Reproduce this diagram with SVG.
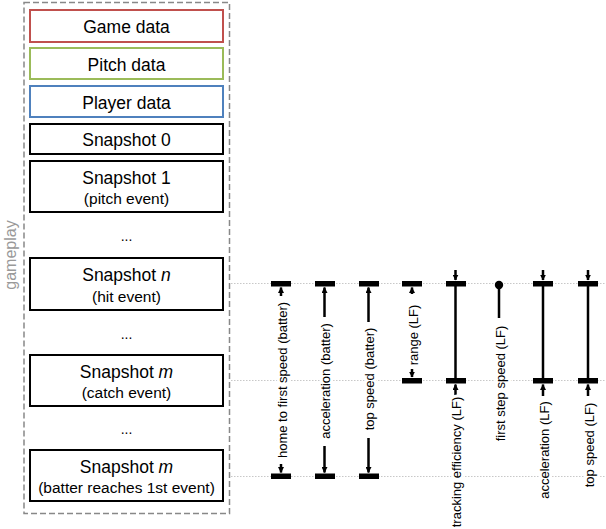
<svg xmlns="http://www.w3.org/2000/svg" width="606" height="529" viewBox="0 0 606 529">
<style>
.box{fill:#fff;stroke:#000;stroke-width:2}
.t{font-family:"Liberation Sans",Arial,sans-serif;font-size:17.5px;text-anchor:middle;fill:#000}
.s{font-family:"Liberation Sans",Arial,sans-serif;font-size:15.5px;text-anchor:middle;fill:#000}
.dots{font-family:"Liberation Sans",Arial,sans-serif;font-size:14px;text-anchor:middle;fill:#000}
.lbl{font-family:"Liberation Sans",Arial,sans-serif;font-size:13px;text-anchor:middle;fill:#000;stroke:#fff;stroke-width:6;paint-order:stroke;stroke-linejoin:round}
.guide{stroke:#c8c8c8;stroke-width:1.2;stroke-dasharray:1.5 1.5;fill:none}
.bar{fill:#000}
.ln{stroke:#000;stroke-width:2.5;fill:none}
</style>
<defs>
<marker id="ah" viewBox="0 0 10 10" refX="9" refY="5" markerWidth="2.4" markerHeight="2.4" orient="auto" markerUnits="strokeWidth">
<path d="M0,0 L10,5 L0,10 z" fill="#000"/>
</marker>
</defs>

<g id="gameplay">
<rect x="24" y="2.5" width="205.5" height="511" fill="none" stroke="#888" stroke-width="1.5" stroke-dasharray="6 3"/>
<text transform="translate(16,255) rotate(-90)" font-family="'Liberation Sans',Arial,sans-serif" font-size="16" fill="#999" text-anchor="middle">gameplay</text>
</g>

<g id="game-data"><rect x="30" y="10" width="193" height="32" fill="#fff" stroke="#c0504d" stroke-width="2"/><text class="t" x="126.5" y="33">Game data</text></g>
<g id="pitch-data"><rect x="30" y="48" width="193" height="31" fill="#fff" stroke="#9bbb59" stroke-width="2"/><text class="t" x="126.5" y="70.5">Pitch data</text></g>
<g id="player-data"><rect x="30" y="86" width="193" height="31" fill="#fff" stroke="#4f81bd" stroke-width="2"/><text class="t" x="126.5" y="108.5">Player data</text></g>
<g id="snapshot-0"><rect class="box" x="30" y="124" width="193" height="30"/><text class="t" x="126.5" y="146">Snapshot 0</text></g>
<g id="snapshot-1"><rect class="box" x="30" y="161" width="193" height="51"/><text class="t" x="126.5" y="184">Snapshot 1</text><text class="s" x="126.5" y="204">(pitch event)</text></g>
<text class="dots" x="126.5" y="241">...</text>
<g id="snapshot-n"><rect class="box" x="30" y="258" width="193" height="52"/><text class="t" x="126.5" y="281">Snapshot <tspan font-style="italic">n</tspan></text><text class="s" x="126.5" y="302">(hit event)</text></g>
<text class="dots" x="126.5" y="339">...</text>
<g id="snapshot-m-catch"><rect class="box" x="30" y="355" width="193" height="51"/><text class="t" x="126.5" y="378">Snapshot <tspan font-style="italic">m</tspan></text><text class="s" x="126.5" y="398">(catch event)</text></g>
<text class="dots" x="126.5" y="434">...</text>
<g id="snapshot-m-batter"><rect class="box" x="30" y="450" width="193" height="51"/><text class="t" x="126.5" y="473">Snapshot <tspan font-style="italic">m</tspan></text><text class="s" x="126.5" y="493" font-size="14">(batter reaches 1st event)</text></g>

<g id="connectors">
<line class="guide" x1="231" y1="283.5" x2="606" y2="283.5"/>
<line class="guide" x1="231" y1="380.5" x2="606" y2="380.5"/>
<line class="guide" x1="231" y1="476.5" x2="606" y2="476.5"/>
</g>

<g id="home-to-first-speed-batter">
<rect class="bar" x="271" y="281" width="20" height="5.5"/>
<rect class="bar" x="271" y="473.5" width="20" height="5.5"/>
<line class="ln" x1="281" y1="296" x2="281" y2="287.5" stroke-width="2" marker-end="url(#ah)"/>
<line class="ln" x1="281" y1="464" x2="281" y2="472.5" stroke-width="2" marker-end="url(#ah)"/>
<text class="lbl" transform="translate(287,380) rotate(-90)">home to first speed (batter)</text>
</g>

<g id="acceleration-batter">
<rect class="bar" x="315" y="281" width="20" height="5.5"/>
<rect class="bar" x="315" y="473.5" width="20" height="5.5"/>
<line class="ln" x1="324.5" y1="317" x2="324.5" y2="287.5" marker-end="url(#ah)"/>
<line class="ln" x1="324.5" y1="446" x2="324.5" y2="472.5" marker-end="url(#ah)"/>
<text class="lbl" transform="translate(330,381) rotate(-90)">acceleration  (batter)</text>
</g>

<g id="top-speed-batter">
<rect class="bar" x="359" y="281" width="20" height="5.5"/>
<rect class="bar" x="359" y="473.5" width="20" height="5.5"/>
<line class="ln" x1="368.5" y1="322" x2="368.5" y2="287.5" marker-end="url(#ah)"/>
<line class="ln" x1="368.5" y1="438" x2="368.5" y2="472.5" marker-end="url(#ah)"/>
<text class="lbl" transform="translate(374,379) rotate(-90)">top speed (batter)</text>
</g>

<g id="range-lf">
<rect class="bar" x="402" y="281" width="20" height="5.5"/>
<rect class="bar" x="402" y="378" width="20" height="5.5"/>
<line class="ln" x1="412" y1="294" x2="412" y2="287.5" stroke-width="2" marker-end="url(#ah)"/>
<line class="ln" x1="412" y1="369" x2="412" y2="377" stroke-width="2" marker-end="url(#ah)"/>
<text class="lbl" transform="translate(418,335) rotate(-90)">range (LF)</text>
</g>

<g id="tracking-efficiency-lf">
<line class="ln" x1="455.5" y1="283" x2="455.5" y2="381"/>
<rect class="bar" x="446" y="281" width="20" height="5.5"/>
<rect class="bar" x="446" y="378" width="20" height="5.5"/>
<line class="ln" x1="455.5" y1="270" x2="455.5" y2="280" stroke-width="2" marker-end="url(#ah)"/>
<line class="ln" x1="455.5" y1="396" x2="455.5" y2="384.5" stroke-width="2" marker-end="url(#ah)"/>
<text class="lbl" transform="translate(461,462) rotate(-90)" font-size="12" stroke-width="4">tracking efficiency (LF)</text>
</g>

<g id="first-step-speed-lf">
<circle cx="499" cy="285" r="4.2" fill="#000"/>
<line class="ln" x1="499" y1="285" x2="499" y2="318"/>
<text class="lbl" transform="translate(505,383.5) rotate(-90)">first step speed (LF)</text>
</g>

<g id="acceleration-lf">
<line class="ln" x1="543" y1="283" x2="543" y2="381"/>
<rect class="bar" x="533" y="281" width="20" height="5.5"/>
<rect class="bar" x="533" y="378" width="20" height="5.5"/>
<line class="ln" x1="543" y1="270" x2="543" y2="280" stroke-width="2" marker-end="url(#ah)"/>
<line class="ln" x1="543" y1="396" x2="543" y2="384.5" stroke-width="2" marker-end="url(#ah)"/>
<text class="lbl" transform="translate(549,450) rotate(-90)">acceleration (LF)</text>
</g>

<g id="top-speed-lf">
<line class="ln" x1="588" y1="283" x2="588" y2="381"/>
<rect class="bar" x="578" y="281" width="20" height="5.5"/>
<rect class="bar" x="578" y="378" width="20" height="5.5"/>
<line class="ln" x1="588" y1="270" x2="588" y2="280" stroke-width="2" marker-end="url(#ah)"/>
<line class="ln" x1="588" y1="396" x2="588" y2="384.5" stroke-width="2" marker-end="url(#ah)"/>
<text class="lbl" transform="translate(594,445) rotate(-90)">top speed (LF)</text>
</g>
</svg>
